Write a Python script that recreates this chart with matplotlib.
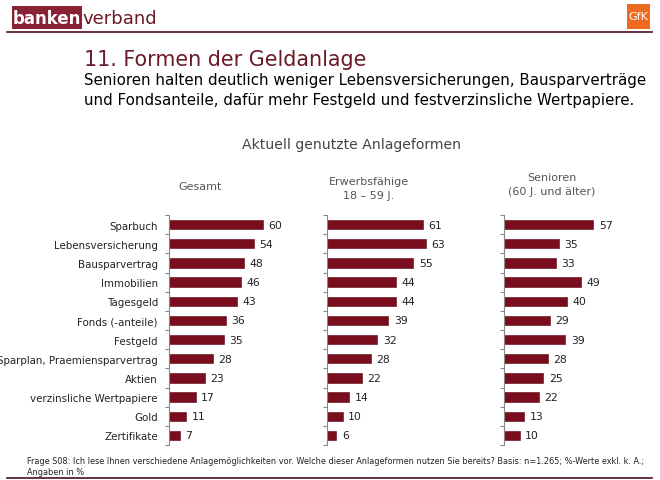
import matplotlib
matplotlib.use("Agg")
import matplotlib.pyplot as plt
from matplotlib.patches import Rectangle
from matplotlib.lines import Line2D

categories = ["Sparbuch", "Lebensversicherung", "Bausparvertrag", "Immobilien",
              "Tagesgeld", "Fonds (-anteile)", "Festgeld",
              "Sparplan, Praemiensparvertrag", "Aktien",
              "verzinsliche Wertpapiere", "Gold", "Zertifikate"]
gesamt = [60, 54, 48, 46, 43, 36, 35, 28, 23, 17, 11, 7]
erwerbs = [61, 63, 55, 44, 44, 39, 32, 28, 22, 14, 10, 6]
senioren = [57, 35, 33, 49, 40, 29, 39, 28, 25, 22, 13, 10]
group_titles = ["Gesamt", "Erwerbsfähige\n18 – 59 J.", "Senioren\n(60 J. und älter)"]

W, H = 660, 481
fig = plt.figure(figsize=(W / 100, H / 100), dpi=100)
fig.patch.set_facecolor("white")

def fx(x):
    return x / W

def fy(y):
    return 1 - y / H

BAR = "#7a0d1d"
DARK = "#6b1a26"

# Header
fig.patches.append(Rectangle((fx(12), fy(30)), fx(70), 23 / H, transform=fig.transFigure,
                             facecolor="#8a2236", edgecolor="none"))
fig.text(fx(47), fy(19), "banken", color="white", fontsize=12, fontweight="bold",
         va="center", ha="center")
fig.text(fx(82), fy(19), "verband", color=DARK, fontsize=13, va="center", ha="left")
fig.patches.append(Rectangle((fx(627), fy(30)), fx(23), 25 / H, transform=fig.transFigure,
                             facecolor="#ee6a1e", edgecolor="none"))
fig.text(fx(638.5), fy(17.5), "GfK", color="white", fontsize=8, va="center", ha="center")
fig.lines.append(Line2D([fx(7), fx(652)], [fy(33), fy(33)], transform=fig.transFigure,
                        color="#4a0f1a", lw=1.2))

# Titles
fig.text(fx(84), fy(60), "11. Formen der Geldanlage", color=DARK, fontsize=14.9,
         va="center", ha="left")
fig.text(fx(84), fy(80), "Senioren halten deutlich weniger Lebensversicherungen, Bausparverträge",
         color="black", fontsize=10.8, va="center", ha="left")
fig.text(fx(84), fy(101), "und Fondsanteile, dafür mehr Festgeld und festverzinsliche Wertpapiere.",
         color="black", fontsize=10.8, va="center", ha="left")
fig.text(fx(352), fy(145), "Aktuell genutzte Anlageformen", color="#444444", fontsize=10.1,
         va="center", ha="center")

# Panels
lefts = [169, 327, 504]
header_centers = [(200, 187), (369, 189), (552, 185)]
series = [gesamt, erwerbs, senioren]
xmax = 70
scale = 1.57
top, bottom = 216, 446
for k, (left, vals) in enumerate(zip(lefts, series)):
    ax = fig.add_axes([fx(left), fy(bottom), xmax * scale / W, (bottom - top) / H])
    y = list(range(len(categories)))
    ax.barh(y, vals, height=0.48, color=BAR, edgecolor="#5a0510", linewidth=0.4)
    ax.set_ylim(len(categories) - 0.5, -0.5)
    ax.set_xlim(0, xmax)
    for yi, v in zip(y, vals):
        ax.text(v + 3.5, yi, str(v), va="center", ha="left", fontsize=7.8, color="#222222")
    for s in ["top", "right", "bottom"]:
        ax.spines[s].set_visible(False)
    ax.spines["left"].set_color("#888888")
    ax.spines["left"].set_linewidth(0.8)
    ax.set_xticks([])
    ax.set_yticks([i + 0.5 for i in range(-1, len(categories))], minor=True)
    ax.tick_params(axis="y", which="minor", length=3, color="#888888", width=0.8)
    ax.set_yticks(y)
    if k == 0:
        ax.set_yticklabels(categories, fontsize=7.4, color="#222222")
        ax.tick_params(axis="y", which="major", length=0, pad=8)
    else:
        ax.set_yticklabels([])
        ax.tick_params(axis="y", which="major", length=0)
    ax.patch.set_alpha(0)
    cx, cy = header_centers[k]
    fig.text(fx(cx), fy(cy), group_titles[k], ha="center", va="center", fontsize=8.0,
             color="#555555", linespacing=1.45)

# Footer
fig.text(fx(27), fy(462), "Frage S08: Ich lese Ihnen verschiedene Anlagemöglichkeiten vor. Welche dieser "
         "Anlageformen nutzen Sie bereits? Basis: n=1.265; %-Werte exkl. k. A.;",
         fontsize=5.9, color="#222222", va="center", ha="left")
fig.text(fx(27), fy(473), "Angaben in %", fontsize=5.9, color="#222222", va="center", ha="left")
fig.lines.append(Line2D([fx(7), fx(652)], [fy(479), fy(479)], transform=fig.transFigure,
                        color="#4a0f1a", lw=1.2))

fig.savefig("out.png", dpi=100, facecolor="white")
